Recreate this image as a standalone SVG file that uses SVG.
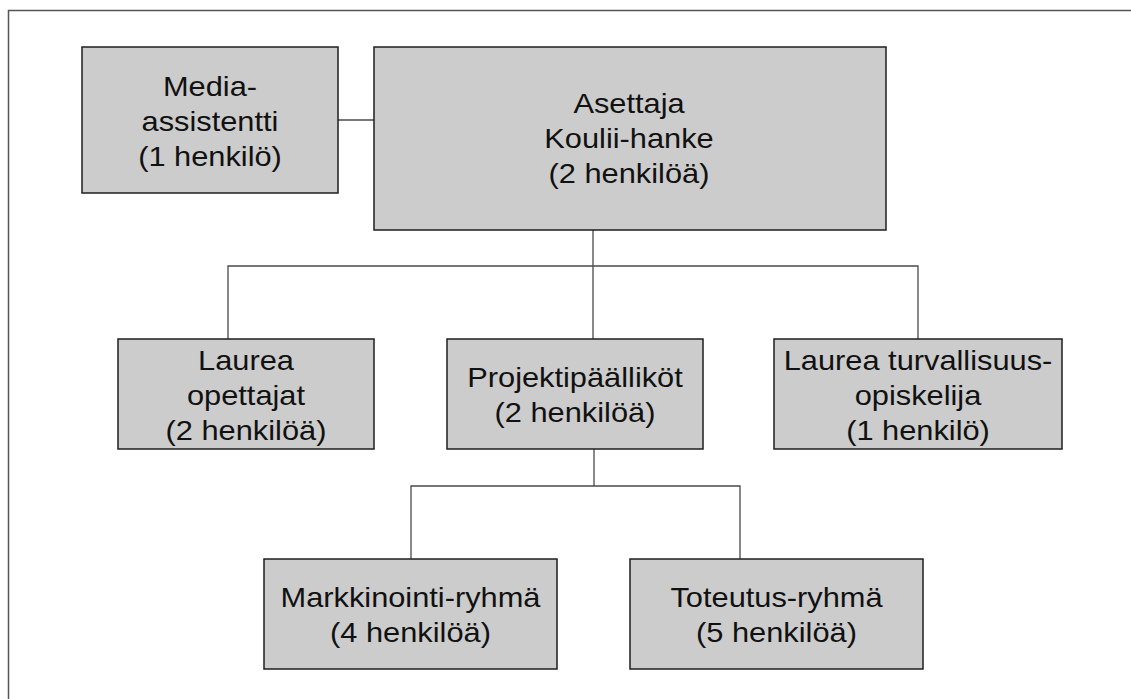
<svg xmlns="http://www.w3.org/2000/svg" width="1131" height="699" viewBox="0 0 1131 699">
<style>
.box{fill:#cccccc;stroke:#1e1e1e;stroke-width:1.5}
.ln{fill:none;stroke:#4a4a4a;stroke-width:1.3}
.frame{fill:none;stroke:#555;stroke-width:1.5}
text{font-family:"Liberation Sans",Arial,sans-serif;font-size:28.5px;fill:#111;text-anchor:middle}
</style>
<rect width="1131" height="699" fill="#ffffff"/>
<path class="frame" d="M8.5,699 V10.5 H1131"/>
<g id="connectors">
<path class="ln" d="M338,120 H374"/>
<path class="ln" d="M593,230 V339"/>
<path class="ln" d="M228,339 V266 H918 V339"/>
<path class="ln" d="M594,449 V486"/>
<path class="ln" d="M411,559 V486 H740 V559"/>
</g>
<g id="media">
<rect class="box" x="82" y="47" width="256" height="146"/>
<g transform="translate(210,0) scale(1.08,1)">
<text x="0" y="96">Media-</text>
<text x="0" y="131">assistentti</text>
<text x="0" y="166">(1 henkilö)</text>
</g>
</g>
<g id="asettaja">
<rect class="box" x="374" y="47" width="512" height="183"/>
<g transform="translate(629,0) scale(1.08,1)">
<text x="0" y="113">Asettaja</text>
<text x="0" y="148">Koulii-hanke</text>
<text x="0" y="183">(2 henkilöä)</text>
</g>
</g>
<g id="opettajat">
<rect class="box" x="118" y="339" width="256" height="110"/>
<g transform="translate(246,0) scale(1.08,1)">
<text x="0" y="370">Laurea</text>
<text x="0" y="405">opettajat</text>
<text x="0" y="440">(2 henkilöä)</text>
</g>
</g>
<g id="projektipaallikot">
<rect class="box" x="447" y="339" width="256" height="110"/>
<g transform="translate(575,0) scale(1.08,1)">
<text x="0" y="387">Projektipäälliköt</text>
<text x="0" y="422">(2 henkilöä)</text>
</g>
</g>
<g id="opiskelija">
<rect class="box" x="774" y="339" width="288" height="110"/>
<g transform="translate(918,0) scale(1.08,1)">
<text x="0" y="370">Laurea turvallisuus-</text>
<text x="0" y="405">opiskelija</text>
<text x="0" y="440">(1 henkilö)</text>
</g>
</g>
<g id="markkinointi">
<rect class="box" x="264" y="559" width="293" height="110"/>
<g transform="translate(410.5,0) scale(1.08,1)">
<text x="0" y="607">Markkinointi-ryhmä</text>
<text x="0" y="642">(4 henkilöä)</text>
</g>
</g>
<g id="toteutus">
<rect class="box" x="630" y="559" width="293" height="110"/>
<g transform="translate(776.5,0) scale(1.08,1)">
<text x="0" y="607">Toteutus-ryhmä</text>
<text x="0" y="642">(5 henkilöä)</text>
</g>
</g>
</svg>
